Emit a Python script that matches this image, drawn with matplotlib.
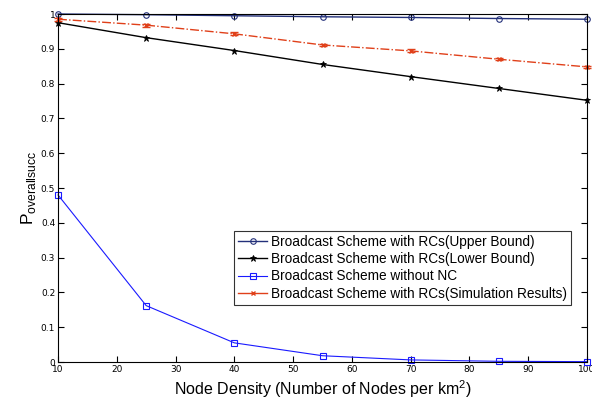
import matplotlib
matplotlib.use("Agg")
import matplotlib.pyplot as plt
from matplotlib.lines import Line2D
import numpy as np

density = [10, 25, 40, 55, 70, 85, 100]
upper = [1.0, 0.998, 0.995, 0.992, 0.990, 0.987, 0.985]
lower = [0.975, 0.932, 0.895, 0.855, 0.820, 0.786, 0.752]
no_nc = [0.480, 0.162, 0.055, 0.018, 0.006, 0.002, 0.001]
sim = [0.985, 0.968, 0.943, 0.911, 0.894, 0.870, 0.848]
sim_err = [0.004, 0.004, 0.004, 0.004, 0.004, 0.003, 0.003]

labels = ["Broadcast Scheme with RCs(Upper Bound)",
          "Broadcast Scheme with RCs(Lower Bound)",
          "Broadcast Scheme without NC",
          "Broadcast Scheme with RCs(Simulation Results)"]

fig = plt.figure(figsize=(5.92, 4.0), dpi=100)
ax = fig.add_axes([0.098, 0.095, 0.8936, 0.87])

h1, = ax.plot(density, upper, color="#23307a", marker="o", mfc="none", ms=4, mew=0.8, lw=1, clip_on=False)
h2, = ax.plot(density, lower, color="black", marker="*", ms=5, mew=0.6, lw=1, clip_on=False)
h3, = ax.plot(density, no_nc, color="#1a1aff", marker="s", mfc="none", ms=4.5, mew=0.8, lw=0.8, clip_on=False)
ax.errorbar(density, sim, yerr=sim_err, color="#e0401a", marker="x", ms=3.5, lw=1, ls="-.",
            capsize=3, clip_on=False)
h4 = Line2D([], [], color="#e0401a", marker="x", ms=3.5, lw=1, ls="-")

ax.set_xlim(10, 100)
ax.set_ylim(0, 1)
ax.set_xticks(np.arange(10, 101, 10))
ax.set_yticks(np.arange(0, 1.01, 0.1))
ax.set_yticklabels(["0", "0.1", "0.2", "0.3", "0.4", "0.5", "0.6", "0.7", "0.8", "0.9", "1"])
ax.tick_params(direction="in", top=True, right=True, labelsize=6.5, length=4, pad=2)
for lab in ax.get_xticklabels() + ax.get_yticklabels():
    lab.set_family(["Liberation Sans Narrow", "DejaVu Sans Condensed", "DejaVu Sans"])

ax.set_xlabel(r"Node Density (Number of Nodes per km$^\mathregular{2}$)", fontsize=11.5, family="Liberation Sans", labelpad=3)
ax.set_ylabel(r"P$_{\mathregular{overallsucc}}$", fontsize=12.5, family="Liberation Sans", labelpad=2)

leg = ax.legend([h1, h2, h3, h4], labels, loc="lower right", bbox_to_anchor=(0.97, 0.164), borderaxespad=0,
                prop={"family": "Liberation Sans", "size": 9.8},
                frameon=True, fancybox=False, edgecolor="black", handlelength=2.1, borderpad=0.3,
                labelspacing=0.25, handletextpad=0.3)
leg.get_frame().set_linewidth(0.8)

fig.savefig("out.png", dpi=100)
